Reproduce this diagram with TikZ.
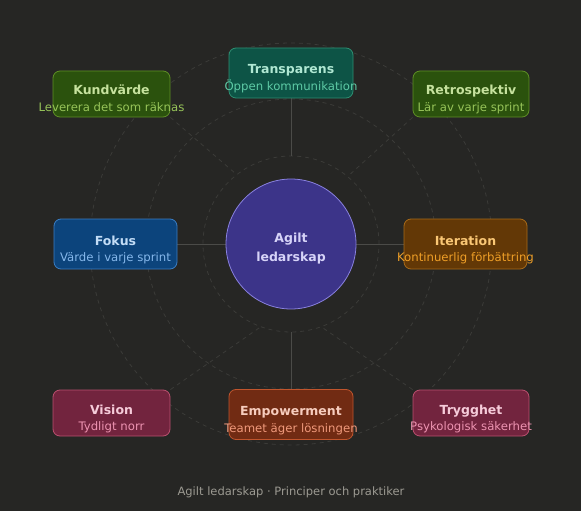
\documentclass[tikz,border=0pt]{standalone}
\usepackage{fontspec}
\setmainfont{DejaVu Sans}
\usepackage{xcolor}
\usepackage{tikz}
\usetikzlibrary{backgrounds}
\definecolor{bgdark}{HTML}{262624}
\definecolor{ringgray}{HTML}{3B3B38}
\definecolor{spokegray}{HTML}{4B4B48}
\definecolor{footgray}{HTML}{9C9A92}
\definecolor{tealfill}{HTML}{0D5446}\definecolor{tealline}{HTML}{2E8F72}
\definecolor{tealhead}{HTML}{B0E8D3}\definecolor{tealsub}{HTML}{5DCAA5}
\definecolor{greenfill}{HTML}{2B520D}\definecolor{greenline}{HTML}{5E8F25}
\definecolor{greenhead}{HTML}{C6E29E}\definecolor{greensub}{HTML}{97C459}
\definecolor{bluefill}{HTML}{0C447C}\definecolor{blueline}{HTML}{3A7DC4}
\definecolor{bluehead}{HTML}{C2DCF6}\definecolor{bluesub}{HTML}{85B7EB}
\definecolor{amberfill}{HTML}{633806}\definecolor{amberline}{HTML}{A86A18}
\definecolor{amberhead}{HTML}{FAC775}\definecolor{ambersub}{HTML}{EF9F27}
\definecolor{pinkfill}{HTML}{72243E}\definecolor{pinkline}{HTML}{B9506F}
\definecolor{pinkhead}{HTML}{F6CCDA}\definecolor{pinksub}{HTML}{ED93B1}
\definecolor{coralfill}{HTML}{712B13}\definecolor{coralline}{HTML}{C0552D}
\definecolor{coralhead}{HTML}{F7CDBE}\definecolor{coralsub}{HTML}{F0997B}
\definecolor{hubfill}{HTML}{3C3489}\definecolor{hubline}{HTML}{8A82E0}
\definecolor{hubtext}{HTML}{D6D3F8}
% name, x, y, width, height, palette, title, subtitle
\newcommand{\pcard}[8]{%
  \node[pbox, minimum width=#4pt, minimum height=#5pt,
    fill=#6fill, draw=#6line] (#1) at (#2,#3) {};
  \node[ptitle, text=#6head] (#1head) at ([yshift=-1pt]#1.center) {#7};
  \node[psub, text=#6sub] (#1sub) at ([yshift=-17.5pt]#1.center) {#8};}

\begin{document}
\begin{tikzpicture}[x=1pt,y=-1pt,
  pbox/.style={rounded corners=7pt, line width=0.8pt, inner sep=0pt},
  ptitle/.style={anchor=base, inner sep=0pt,
    font=\fontsize{12.5}{14}\selectfont\bfseries},
  psub/.style={anchor=base, inner sep=0pt,
    font=\fontsize{11.7}{14}\selectfont},
  ring/.style={draw=ringgray, line width=0.8pt, dash pattern=on 4pt off 4pt},
  spoke/.style={draw=spokegray, line width=1pt}]
  \useasboundingbox (0,0) rectangle (581,511);

  % hub and principle cards
  \node[circle, minimum size=130pt, inner sep=0pt, fill=hubfill,
    draw=hubline, line width=0.8pt] (hub) at (291,244) {};
  \node[align=center, text=hubtext, inner sep=0pt, anchor=base,
    font=\fontsize{12.5}{19}\selectfont\bfseries] (hublabel)
    at ([yshift=-17pt]hub.center) {Agilt\\ledarskap};
  \pcard{transp}{291}{73}{124}{50}{teal}{Transparens}{Öppen kommunikation}
  \pcard{kund}{111.5}{94}{117}{46}{green}{Kundvärde}{Leverera det som räknas}
  \pcard{retro}{471}{94}{116}{46}{green}{Retrospektiv}{Lär av varje sprint}
  \pcard{fokus}{115.5}{244}{123}{50}{blue}{Fokus}{Värde i varje sprint}
  \pcard{iter}{465.5}{244}{123}{50}{amber}{Iteration}{Kontinuerlig förbättring}
  \pcard{vision}{111.5}{413}{117}{46}{pink}{Vision}{Tydligt norr}
  \pcard{empow}{291}{414.5}{124}{50}{coral}{Empowerment}{Teamet äger lösningen}
  \pcard{trygg}{471}{413}{116}{46}{pink}{Trygghet}{Psykologisk säkerhet}

  \node[anchor=base, text=footgray, font=\fontsize{11.5}{14}\selectfont]
    (caption) at (291,495) {Agilt ledarskap · Principer och praktiker};

  % points on the inner ring
  \coordinate (ringN) at ([shift={(90:88pt)}]hub.center);
  \coordinate (ringS) at ([shift={(270:88pt)}]hub.center);
  \coordinate (rayKV) at ([shift={(128:88pt)}]hub.center);
  \coordinate (rayRE) at ([shift={(50:88pt)}]hub.center);
  \coordinate (rayVI) at ([shift={(250:88pt)}]hub.center);
  \coordinate (rayTR) at ([shift={(290:88pt)}]hub.center);

  \begin{scope}[on background layer]
    \fill[bgdark] (0,0) rectangle (581,511);
    \foreach \r in {88,145,201}{\draw[ring] (hub.center) circle[radius=\r pt];}
    \draw[ring] (kund.south east) -- (rayKV);
    \draw[ring] (retro.south west) -- (rayRE);
    \draw[ring] (vision.north east) -- (rayVI);
    \draw[ring] (trygg.north west) -- (rayTR);
    \draw[spoke] (transp) -- (ringN);
    \draw[spoke] (empow) -- (ringS);
    \draw[spoke] (fokus) -- (hub);
    \draw[spoke] (iter) -- (hub);
  \end{scope}
\end{tikzpicture}
\end{document}
